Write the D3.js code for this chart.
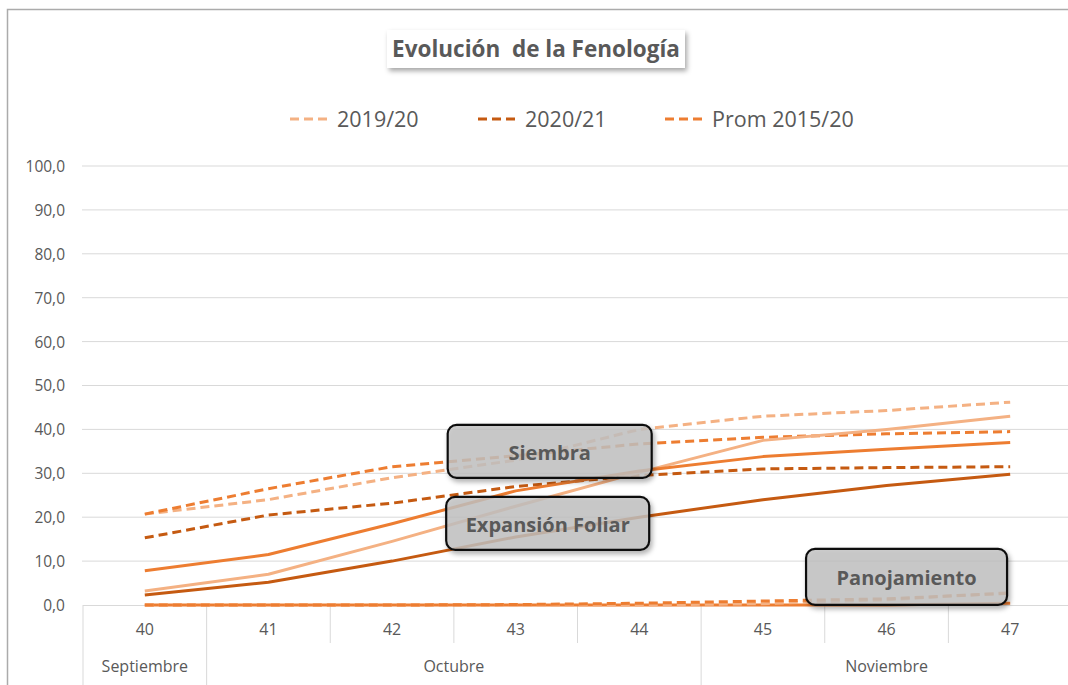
<!DOCTYPE html>
<html><head><meta charset="utf-8">
<script src="https://cdn.jsdelivr.net/npm/d3@7"></script>
<style>
html,body{margin:0;padding:0;background:#fff;}
svg{display:block;}
text{font-family:"Open Sans","Noto Sans",sans-serif;}
</style></head>
<body><svg id="c" width="1068" height="685"></svg>
<script>
const weeks = ["40","41","42","43","44","45","46","47"];
const months = [{name:"Septiembre", from:"40", to:"40"},{name:"Octubre", from:"41", to:"44"},{name:"Noviembre", from:"45", to:"47"}];
const yTicks = [0,10,20,30,40,50,60,70,80,90,100];
const seasons = ["2019/20","2020/21","Prom 2015/20"];
const seasonColors = ["#F4B183","#C55A11","#ED7D31"];

// Siembra (dashed)
const siembra1920 = [20.7,24.0,29.0,33.0,40.0,43.0,44.3,46.2];
const siembra2021 = [15.3,20.5,23.2,27.0,29.5,31.0,31.3,31.5];
const siembraProm = [20.7,26.5,31.5,34.0,36.7,38.2,39.0,39.5];
// Expansión Foliar (solid)
const foliar1920 = [3.2,7.0,14.5,22.5,30.2,37.5,40.0,43.0];
const foliar2021 = [2.3,5.2,10.0,15.5,20.0,24.0,27.2,29.8];
const foliarProm = [7.8,11.5,18.5,26.0,30.5,33.8,35.5,37.0];
// Panojamiento
const pano1920 = [0,0,0,0,0,0.3,1.2,2.8];
const panoProm = [0,0,0,0.1,0.4,0.9,1.4,2.7];
const panoProm2 = [0,0,0,0,0,0,0,0.4];

const labels = [
  {text:"Siembra", week:"43", value:35.0},
  {text:"Expansión Foliar", week:"43", value:18.6},
  {text:"Panojamiento", week:"46", value:6.4}
];

const series = [
  {vals:siembra1920, s:0, dash:true},
  {vals:siembra2021, s:1, dash:true},
  {vals:siembraProm, s:2, dash:true},
  {vals:foliar1920, s:0, dash:false},
  {vals:foliar2021, s:1, dash:false},
  {vals:foliarProm, s:2, dash:false},
  {vals:panoProm2, s:2, dash:false},
  {vals:pano1920, s:0, dash:true},
  {vals:panoProm, s:2, dash:true}
];

const svg = d3.select("#c");
const defs = svg.append("defs");
const f = defs.append("filter").attr("id","sh").attr("x","-20%").attr("y","-20%").attr("width","140%").attr("height","160%");
f.append("feDropShadow").attr("dx",2).attr("dy",3).attr("stdDeviation",2.5).attr("flood-color","#000").attr("flood-opacity",0.35);

// chart border
svg.append("path").attr("d","M7.5,685 V9.5 H1068").attr("fill","none").attr("stroke","#ababab").attr("stroke-width",1.5);

const x = d3.scaleBand().domain(weeks).range([83,1072]);
const y = d3.scaleLinear().domain([0,100]).range([605,166]);
const grey = "#595959";

// gridlines
svg.append("g").selectAll("line").data(yTicks.filter(d=>d>0)).join("line")
  .attr("x1",82).attr("x2",1068).attr("y1",d=>y(d)).attr("y2",d=>y(d))
  .attr("stroke","#d9d9d9").attr("stroke-width",1);

// y axis labels
const yAxis = d3.axisLeft(y).tickValues(yTicks).tickSize(0).tickPadding(0)
  .tickFormat(d=>d3.format(".1f")(d).replace(".",","));
const ya = svg.append("g").attr("transform","translate(65,0)").call(yAxis);
ya.select(".domain").remove();
ya.selectAll("text").attr("fill",grey).style("font-size","15.5px").style("font-family","'Open Sans',sans-serif").attr("dy","0.35em");

// x axis line & category separators
svg.append("line").attr("x1",83).attr("x2",1068).attr("y1",605.5).attr("y2",605.5).attr("stroke","#d9d9d9");
const monthStarts = months.map(m=>m.from);
svg.append("g").selectAll("line").data(weeks.concat(["end"])).join("line")
  .attr("x1",d=>d==="end"?1072:x(d)).attr("x2",d=>d==="end"?1072:x(d))
  .attr("y1",605).attr("y2",d=>monthStarts.includes(d)?685:643)
  .attr("stroke","#d9d9d9");

const xAxis = d3.axisBottom(x).tickSize(0).tickPadding(0);
const xa = svg.append("g").attr("transform","translate(0,624)").call(xAxis);
xa.select(".domain").remove();
xa.selectAll("text").attr("fill",grey).style("font-size","16px").attr("dy","0.71em");

svg.append("g").selectAll("text").data(months).join("text")
  .attr("x",d=>(x(d.from)+x(d.to)+x.bandwidth())/2).attr("y",672)
  .attr("text-anchor","middle").attr("fill",grey).style("font-size","16px").text(d=>d.name);

// lines
const line = d3.line().x((d,i)=>x(weeks[i])+x.bandwidth()/2).y(d=>y(d));
svg.append("g").selectAll("path").data(series).join("path")
  .attr("d",d=>line(d.vals)).attr("fill","none")
  .attr("stroke",d=>seasonColors[d.s]).attr("stroke-width",3)
  .attr("stroke-dasharray",d=>d.dash?"9,5":null)
  .attr("stroke-linejoin","round");

// annotation boxes
const boxes = [
  {w:204,h:53,dx:34},
  {w:203,h:53,dx:32},
  {w:201,h:56,dx:20}
];
const lg = svg.append("g").selectAll("g").data(labels).join("g")
  .attr("transform",(d,i)=>`translate(${x(d.week)+x.bandwidth()/2+boxes[i].dx},${y(d.value)})`);
lg.append("rect").attr("x",(d,i)=>-boxes[i].w/2).attr("y",(d,i)=>-boxes[i].h/2)
  .attr("width",(d,i)=>boxes[i].w).attr("height",(d,i)=>boxes[i].h)
  .attr("rx",9).attr("fill","rgba(195,195,195,0.8)").attr("stroke","#111").attr("stroke-width",2.2)
  .attr("filter","url(#sh)");
lg.append("text").attr("text-anchor","middle").attr("dy","0.42em").attr("fill",grey)
  .style("font-size","20px").style("font-weight","bold").text(d=>d.text);

// title
const tg = svg.append("g").attr("transform","translate(536,49)");
tg.append("rect").attr("x",-149).attr("y",-19).attr("width",298).attr("height",38).attr("fill","#fff").attr("filter","url(#sh)");
tg.append("text").attr("text-anchor","middle").attr("dy","0.35em").attr("fill",grey)
  .style("font-size","22.5px").style("font-weight","bold").style("white-space","pre").text("Evolución  de la Fenología");

// legend
const legX = [290,478,665];
const lgd = svg.append("g").selectAll("g").data(seasons).join("g")
  .attr("transform",(d,i)=>`translate(${legX[i]},119)`);
lgd.append("line").attr("x1",0).attr("x2",40).attr("stroke",(d,i)=>seasonColors[i]).attr("stroke-width",3).attr("stroke-dasharray","9,5");
lgd.append("text").attr("x",47).attr("dy","0.35em").attr("fill",grey).style("font-size","21.5px").text(d=>d);
</script></body></html>
